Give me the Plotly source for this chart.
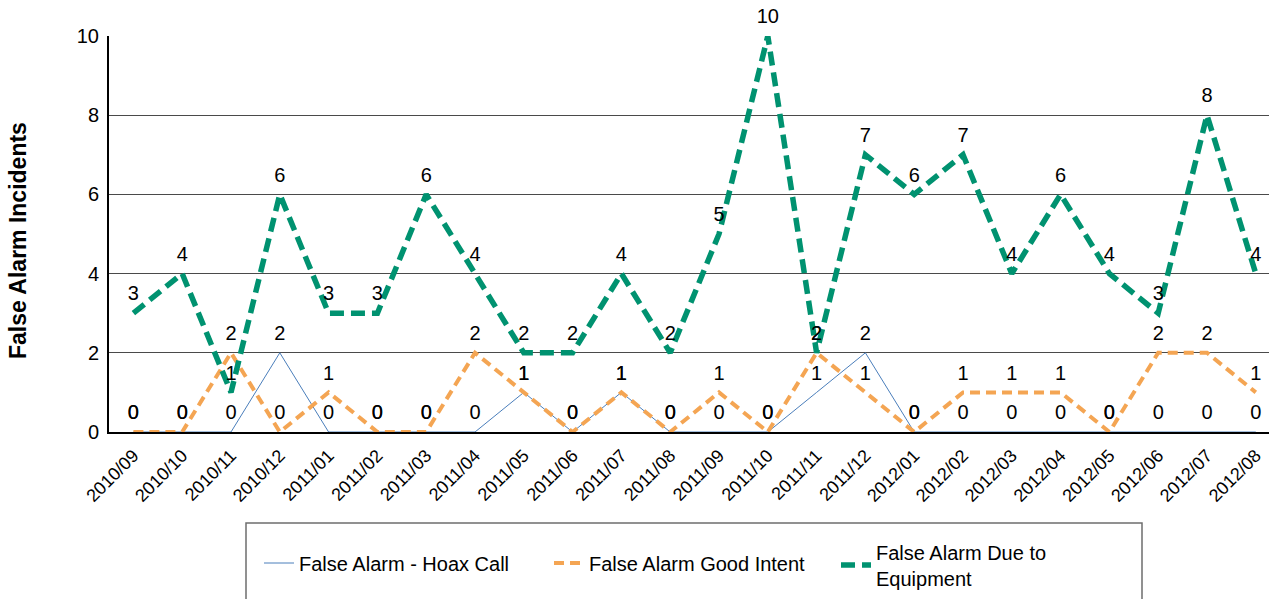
import plotly.graph_objects as go

months = ["2010/09", "2010/10", "2010/11", "2010/12", "2011/01", "2011/02", "2011/03",
          "2011/04", "2011/05", "2011/06", "2011/07", "2011/08", "2011/09", "2011/10",
          "2011/11", "2011/12", "2012/01", "2012/02", "2012/03", "2012/04", "2012/05",
          "2012/06", "2012/07", "2012/08"]
hoax_call = [0, 0, 0, 2, 0, 0, 0, 0, 1, 0, 1, 0, 0, 0, 1, 2, 0, 0, 0, 0, 0, 0, 0, 0]
good_intent = [0, 0, 2, 0, 1, 0, 0, 2, 1, 0, 1, 0, 1, 0, 2, 1, 0, 1, 1, 1, 0, 2, 2, 1]
equipment = [3, 4, 1, 6, 3, 3, 6, 4, 2, 2, 4, 2, 5, 10, 2, 7, 6, 7, 4, 6, 4, 3, 8, 4]
y_ticks = [0, 2, 4, 6, 8, 10]

FONT = "Liberation Sans, Arial, sans-serif"
W, H = 1269, 599
L, T, B = 109, 36, 167
plot_w = W - L
plot_h = H - T - B


def px_x(x):
    return (x - L) / plot_w


def px_y(y):
    return (T + plot_h - y) / plot_h


label_font = dict(size=20, color="black", family=FONT)
hidden_marker = dict(size=11, color="rgba(0,0,0,0)", line=dict(width=0))
fig = go.Figure()
fig.add_trace(go.Scatter(
    x=months, y=hoax_call, name="False Alarm - Hoax Call", mode="lines+markers+text",
    text=[str(v) for v in hoax_call], textposition="top center", textfont=label_font,
    marker=hidden_marker, legend="legend",
    line=dict(color="#4a7ebb", width=1), cliponaxis=False))
fig.add_trace(go.Scatter(
    x=months, y=good_intent, name="False Alarm Good Intent", mode="lines+markers+text",
    text=[str(v) for v in good_intent], textposition="top center", textfont=label_font,
    marker=hidden_marker, legend="legend2",
    line=dict(color="#f4a553", width=4, dash="10px,6px"), cliponaxis=False))
fig.add_trace(go.Scatter(
    x=months, y=equipment, name="False Alarm Due to<br>Equipment", mode="lines+markers+text",
    text=[str(v) for v in equipment], textposition="top center", textfont=label_font,
    marker=hidden_marker, legend="legend3",
    line=dict(color="#009270", width=5.5, dash="14px,7px"), cliponaxis=False))

legend_common = dict(orientation="h", xanchor="left", yanchor="middle",
                     font=dict(size=20, family=FONT, color="black"),
                     bgcolor="rgba(0,0,0,0)", borderwidth=0)
span = plot_w / 48.8
fig.update_layout(
    width=W, height=H,
    margin=dict(l=L, r=0, t=T, b=B, autoexpand=False),
    paper_bgcolor="white", plot_bgcolor="white",
    font=dict(family=FONT, color="black"),
    showlegend=True,
    hovermode=False,
    legend=dict(x=px_x(259), y=px_y(563), **legend_common),
    legend2=dict(x=px_x(549), y=px_y(563), **legend_common),
    legend3=dict(x=px_x(836), y=px_y(565), **legend_common),
    xaxis=dict(type="category", range=[-0.5, -0.5 + span],
               showline=True, linecolor="black", linewidth=2,
               showgrid=False, ticks="", tickangle=-45, ticklabelstandoff=4,
               tickfont=dict(size=18, family=FONT, color="black"), fixedrange=True),
    yaxis=dict(range=[0, 10], tickvals=y_ticks, ticktext=[str(v) for v in y_ticks],
               showline=True, linecolor="black", linewidth=2,
               showgrid=True, gridcolor="#4a4a4a", gridwidth=1, ticks="",
               ticklabelstandoff=4, zeroline=False,
               tickfont=dict(size=20, family=FONT, color="black"), fixedrange=True),
    annotations=[dict(text="<b>False Alarm Incidents</b>", xref="paper", yref="paper",
                      x=px_x(18), y=px_y(241), textangle=-90, showarrow=False,
                      font=dict(size=23, family=FONT, color="black"),
                      xanchor="center", yanchor="middle")],
    shapes=[dict(type="rect", xref="paper", yref="paper",
                 x0=px_x(246), x1=px_x(1142), y0=px_y(640), y1=px_y(523),
                 line=dict(color="#6e6e6e", width=1.5), fillcolor="rgba(0,0,0,0)")],
)

fig.write_html("out.html", config={"displayModeBar": False},
               post_script="document.body.style.margin='0';document.body.style.overflow='hidden';")
